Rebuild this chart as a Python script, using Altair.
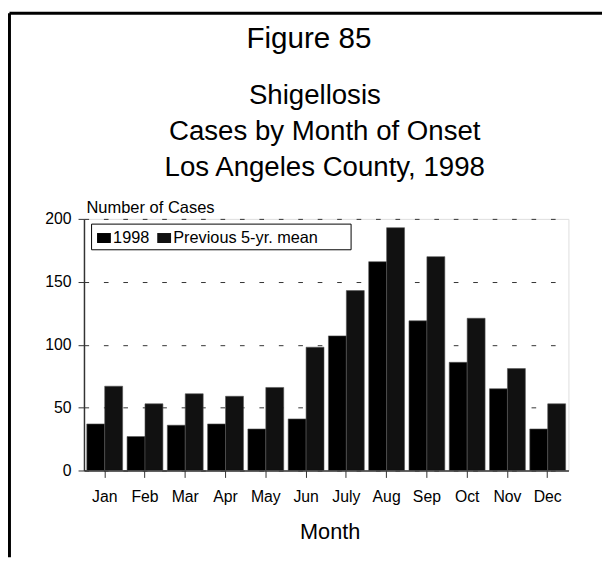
import altair as alt
import pandas as pd

months = ["Jan", "Feb", "Mar", "Apr", "May", "Jun", "July", "Aug", "Sep", "Oct", "Nov", "Dec"]
cases_1998 = [37, 27, 36, 37, 33, 41, 107, 166, 119, 86, 65, 33]
mean_prev5 = [67, 53, 61, 59, 66, 98, 143, 193, 170, 121, 81, 53]
series_names = ["1998", "Previous 5-yr. mean"]
y_ticks = [0, 50, 100, 150, 200]
title_lines = ["Figure 85", "Shigellosis", "Cases by Month of Onset", "Los Angeles County, 1998"]

rows = []
for m, a, b in zip(months, cases_1998, mean_prev5):
    rows.append({"month": m, "series": series_names[0], "cases": a})
    rows.append({"month": m, "series": series_names[1], "cases": b})
df = pd.DataFrame(rows)

FONT = "Liberation Sans"
W, H = 491, 255
PL, PT, PR, PB = 77, 210, 34, 88

bars = alt.Chart(df).mark_bar(stroke="#555", strokeWidth=0.6).encode(
    x=alt.X("month:N", sort=months,
            scale=alt.Scale(paddingInner=0.11, paddingOuter=0.07),
            axis=alt.Axis(title="Month", labelAngle=0, labelFontSize=16, labelFont=FONT,
                          labelColor="black", tickSize=7, tickColor="#333", tickWidth=1,
                          labelPadding=11, domainColor="#333", domainWidth=1.5,
                          titleFont=FONT, titleFontSize=22, titleFontWeight="normal",
                          titleColor="black", titleX=249, titleAlign="center",
                          titleY=62, titleBaseline="middle")),
    xOffset=alt.XOffset("series:N", sort=series_names),
    y=alt.Y("cases:Q", scale=alt.Scale(domain=[0, 200], nice=False),
            axis=alt.Axis(values=y_ticks, title="Number of Cases", titleAngle=0,
                          titleX=2, titleY=-11, titleAlign="left", titleBaseline="middle",
                          titleFont=FONT, titleFontSize=16.7, titleFontWeight="normal",
                          titleColor="black", labelFont=FONT, labelFontSize=16,
                          labelColor="black", tickSize=6, tickColor="#333", labelPadding=7,
                          domainColor="#333", domainWidth=1.5,
                          grid=True, gridDash=[4.7, 15], gridColor="#333", gridWidth=1)),
    color=alt.Color("series:N", sort=series_names,
                    scale=alt.Scale(domain=series_names, range=["#000000", "#111111"]),
                    legend=alt.Legend(title=None, orient="none", legendX=12, legendY=11,
                                      direction="horizontal",
                                      symbolType="M-1,-0.72H1V0.72H-1Z", symbolSize=196,
                                      symbolStrokeWidth=0, labelFont=FONT, labelFontSize=16.5,
                                      labelColor="black", labelOffset=1, columnPadding=6,
                                      padding=0)),
)

one = pd.DataFrame({"k": [0]})
legend_box = alt.Chart(one).mark_rect(fill=None, stroke="black", strokeWidth=1).encode(
    x=alt.value(7.7), x2=alt.value(270.7), y=alt.value(5.3), y2=alt.value(31.3)
)
frame_top = alt.Chart(one).mark_rule(color="black", strokeWidth=3).encode(
    x=alt.value(-75.5), x2=alt.value(W + PR), y=alt.value(-208.5)
)
frame_left = alt.Chart(one).mark_rule(color="black", strokeWidth=3).encode(
    x=alt.value(-75.5), y=alt.value(-208.5), y2=alt.value(H + PB)
)

# title lines: (center x, baseline y, font size) in plot coordinates
title_pos = [(228, -173, 30), (234, -116.3, 28), (244, -79.7, 28), (244, -43, 28)]
titles = []
for txt, (tx, ty, fs) in zip(title_lines, title_pos):
    titles.append(
        alt.Chart(one).mark_text(font=FONT, fontSize=fs, color="black", align="center",
                                 baseline="alphabetic").encode(
            x=alt.value(tx), y=alt.value(ty), text=alt.value(txt))
    )

chart = alt.layer(bars, legend_box, frame_top, frame_left, *titles).properties(
    width=W, height=H,
    padding={"left": PL, "top": PT, "right": PR, "bottom": PB},
    autosize=alt.AutoSizeParams(type="none"),
).configure_view(stroke="#333", strokeWidth=1.5).configure(background="white")

chart.save("out.html", embed_options={"renderer": "svg", "actions": False})
